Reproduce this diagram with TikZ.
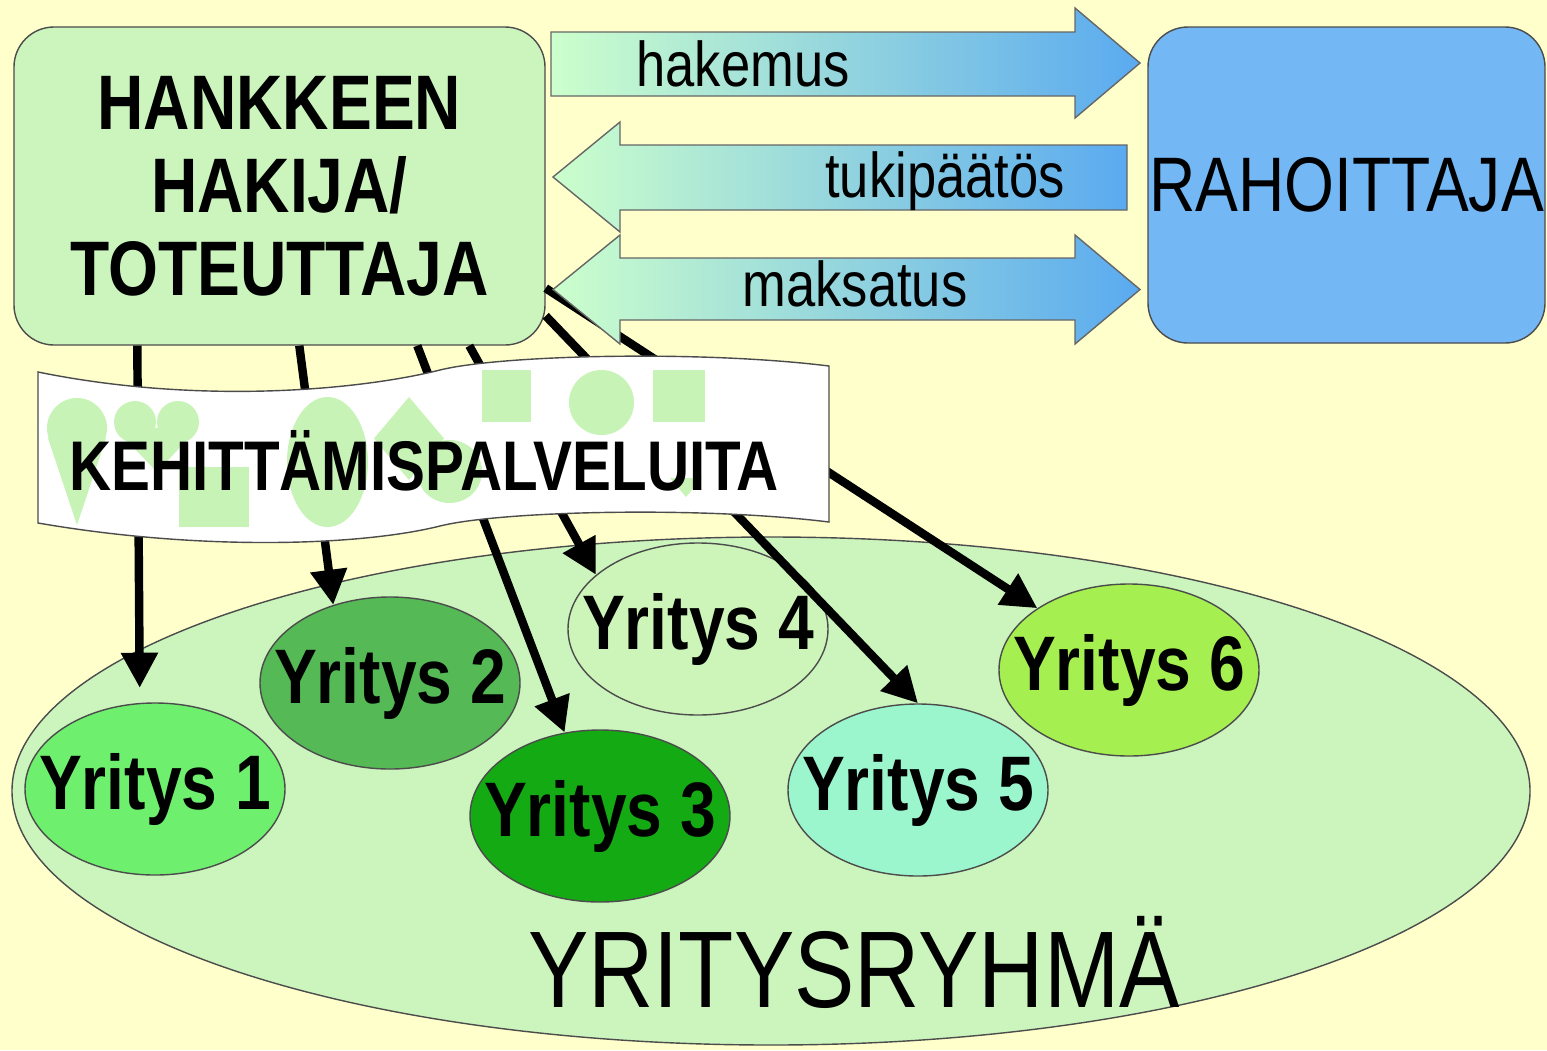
\documentclass[tikz,border=0pt]{standalone}
\usepackage{fontspec}
\setmainfont{Liberation Sans}[FakeStretch=0.83]
\usepackage{tikz}
\usetikzlibrary{shapes.geometric, arrows.meta, calc}
\usepackage{xcolor}

\definecolor{bgyellow}{RGB}{255,255,204}
\definecolor{palegreen}{RGB}{204,245,190}
\definecolor{paleblue}{RGB}{115,183,245}
\definecolor{flowgreen}{RGB}{204,255,204}
\definecolor{flowblue}{RGB}{90,170,240}
\definecolor{shapegreen}{RGB}{200,243,182}
\definecolor{firmone}{RGB}{110,240,110}
\definecolor{firmtwo}{RGB}{85,185,85}
\definecolor{firmthree}{RGB}{20,170,20}
\definecolor{firmfour}{RGB}{205,245,185}
\definecolor{firmfive}{RGB}{155,245,205}
\definecolor{firmsix}{RGB}{165,240,80}

\begin{document}
\begin{tikzpicture}[x=1cm,y=-1cm,
  box/.style={draw=black!70, rounded corners=0.4cm, align=center, inner sep=0pt},
  firm/.style={ellipse, draw=black!70, minimum width=2.6cm, minimum height=1.72cm, inner sep=0pt},
  firmname/.style={font=\fontsize{22}{22}\selectfont\bfseries, inner sep=0pt},
  conn/.style={line width=2.4pt, -{Triangle[length=10pt,width=10pt]}},
  flow/.style={draw=black!60, left color=flowgreen, right color=flowblue},
  flowtext/.style={anchor=base, font=\fontsize{18}{18}\selectfont}]

% Background
\fill[bgyellow] (0,0) rectangle (15.47,10.5);
\useasboundingbox (0,0) rectangle (15.47,10.5);

% Company group
\node[ellipse, draw=black!70, fill=palegreen, minimum width=15.18cm, minimum height=5.08cm] (ryhma) at (7.71,7.91) {};
\node[anchor=base, font=\fontsize{31}{31}\selectfont] (ryhmatext) at (8.54,10.07) {YRITYSRYHMÄ};

\node[firm, fill=firmone, label={[firmname]center:Yritys 1}] (y1) at (1.55,7.89) {};
\node[firm, fill=firmtwo, label={[firmname]center:Yritys 2}] (y2) at (3.90,6.83) {};
\node[firm, fill=firmthree, label={[firmname]center:Yritys 3}] (y3) at (6.00,8.16) {};
\node[firm, fill=firmfour, label={[firmname]center:Yritys 4}] (y4) at (6.98,6.29) {};
\node[firm, fill=firmfive, label={[firmname]center:Yritys 5}] (y5) at (9.18,7.90) {};
\node[firm, fill=firmsix, label={[firmname]center:Yritys 6}] (y6) at (11.29,6.70) {};

% Main boxes
\node[box, fill=palegreen, minimum width=5.31cm, minimum height=3.18cm, font=\fontsize{22}{23.6}\selectfont\bfseries] (hank) at (2.795,1.86) {HANKKEEN\\HAKIJA/\\TOTEUTTAJA};
\node[box, fill=paleblue, minimum width=3.97cm, minimum height=3.16cm, font=\fontsize{22}{22}\selectfont] (raho) at (13.465,1.85) {RAHOITTAJA};

% Services to the firms
\draw[conn, shorten >=0.15cm] ($(hank.south west)+(1.24,0)$) -- (y1.100);
\draw[conn] ($(hank.south west)+(2.86,0)$) -- (y2.126);
\draw[conn] ($(hank.south west)+(4.04,0)$) -- (y3.113);
\draw[conn] ($(hank.south west)+(4.56,0)$) -- (y4.152);
\draw[conn] (hank.-26) -- (y5.north);
\draw[conn] (hank.-21) -- (y6.146);

% Banner
\draw[draw=black!70, fill=white] (0.38,3.72) .. controls (2.0,4.05) and (3.6,3.9) .. (4.4,3.7)
  .. controls (5.0,3.55) and (7.0,3.5) .. (8.29,3.66) -- (8.29,5.22)
  .. controls (7.0,5.06) and (5.0,5.11) .. (4.4,5.26)
  .. controls (3.6,5.46) and (2.0,5.51) .. (0.38,5.23) -- cycle;
\fill[shapegreen] (0.77,4.28) circle (0.30);
\fill[shapegreen] (0.48,4.38) -- (1.06,4.38) -- (0.77,5.25) -- cycle;
\fill[shapegreen] (1.35,4.22) circle (0.21) (1.78,4.22) circle (0.21);
\fill[shapegreen] (1.15,4.28) -- (1.98,4.28) -- (1.57,4.72) -- cycle;
\fill[shapegreen] (1.79,4.67) rectangle (2.49,5.27);
\fill[shapegreen] (3.275,4.62) ellipse [x radius=0.405, y radius=0.65];
\fill[shapegreen] (4.09,3.97) -- (4.44,4.385) -- (4.09,4.80) -- (3.74,4.385) -- cycle;
\fill[shapegreen] (4.495,4.715) ellipse [x radius=0.325, y radius=0.315];
\fill[shapegreen] (4.82,3.70) rectangle (5.31,4.22);
\fill[shapegreen] (6.015,4.025) circle (0.325);
\fill[shapegreen] (6.53,3.70) rectangle (7.05,4.22);
\fill[shapegreen] (6.70,4.78) -- (7.02,4.78) -- (6.86,4.97) -- cycle;
\node[anchor=base, font=\fontsize{20}{20}\selectfont\bfseries] (palvelut) at (4.24,4.90) {KEHITTÄMISPALVELUITA};

% Flows between applicant and funder
\draw[flow] (5.51,0.32) -- (10.75,0.32) -- (10.75,0.08) -- (11.40,0.63) -- (10.75,1.18) -- (10.75,0.96) -- (5.51,0.96) -- cycle;
\draw[flow] (11.27,1.45) -- (6.20,1.45) -- (6.20,1.22) -- (5.53,1.77) -- (6.20,2.32) -- (6.20,2.10) -- (11.27,2.10) -- cycle;
\draw[flow] (6.20,2.58) -- (10.75,2.58) -- (10.75,2.35) -- (11.40,2.895) -- (10.75,3.44) -- (10.75,3.20)
  -- (6.20,3.20) -- (6.20,3.44) -- (5.53,2.895) -- (6.20,2.35) -- cycle;
\node[flowtext] (hakemus) at (7.43,0.86) {hakemus};
\node[flowtext] (tukipaatos) at (9.45,1.97) {tukipäätös};
\node[flowtext] (maksatus) at (8.55,3.06) {maksatus};

\end{tikzpicture}
\end{document}
